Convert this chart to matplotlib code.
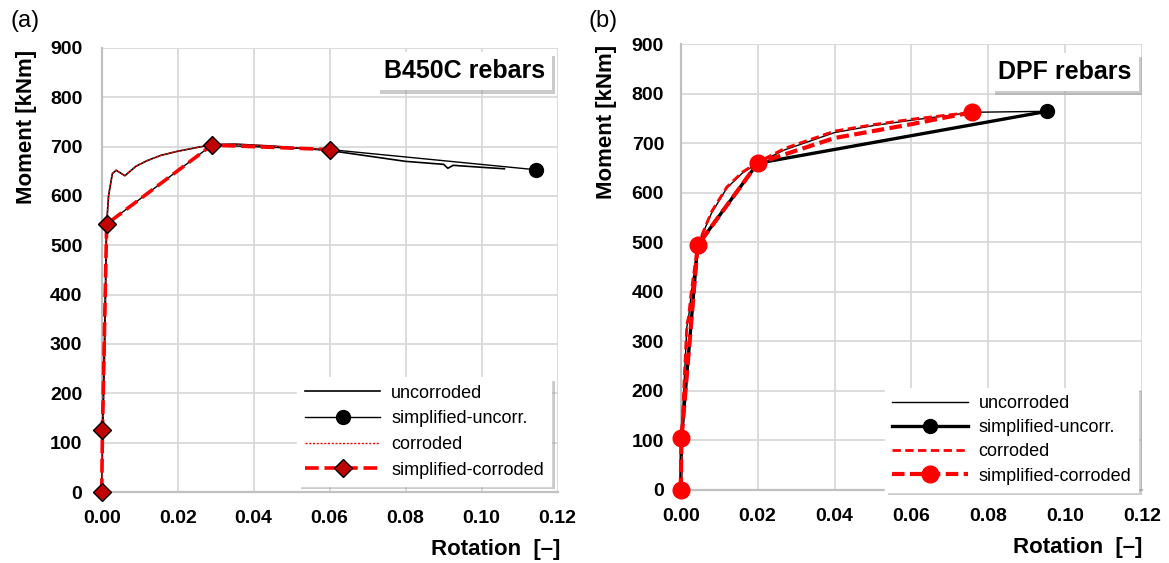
import matplotlib
matplotlib.use("Agg")
import matplotlib.pyplot as plt
import matplotlib.patheffects as pe

plt.rcParams['font.family'] = ['Liberation Sans', 'DejaVu Sans']

# ---------------- Panel (a): B450C rebars ----------------
a_unc_x = [0.0, 0.0003, 0.0008, 0.0013, 0.0018, 0.0028, 0.0038, 0.0061, 0.009, 0.0118,
           0.0155, 0.0197, 0.025, 0.029, 0.035, 0.045, 0.06, 0.07, 0.08, 0.09,
           0.0911, 0.0925, 0.1, 0.106]
a_unc_y = [0, 125, 300, 543, 600, 645, 652, 641, 660, 671,
           682, 690, 698, 704, 705, 701, 692, 681, 670, 664,
           656, 662, 658, 655]
a_cor_x = [0.0, 0.0003, 0.0008, 0.0013, 0.0018, 0.0028, 0.0038, 0.0061, 0.009, 0.0118,
           0.0155, 0.0197, 0.025, 0.029, 0.035, 0.045, 0.06]
a_cor_y = [0, 125, 300, 543, 600, 645, 652, 641, 660, 671,
           682, 690, 698, 704, 705, 701, 693]
a_simp_unc_x = [0.0, 0.0002, 0.0013, 0.029, 0.06, 0.1143]
a_simp_unc_y = [0, 125, 543, 703, 694, 653]
a_simp_cor_x = [0.0, 0.0002, 0.0013, 0.029, 0.06]
a_simp_cor_y = [0, 125, 543, 703, 694]

# ---------------- Panel (b): DPF rebars ----------------
b_unc_x = [0.0, 0.0002, 0.001, 0.0016, 0.002, 0.0028, 0.0044, 0.008, 0.012, 0.016,
           0.02, 0.027, 0.04, 0.05, 0.06, 0.07, 0.0757, 0.0953]
b_unc_y = [0, 104, 235, 330, 345, 400, 494, 559, 610, 640,
           660, 687, 722, 736, 747, 757, 763, 765]
b_cor_x = [0.0, 0.0002, 0.001, 0.0016, 0.002, 0.0028, 0.0044, 0.008, 0.012, 0.016,
           0.02, 0.027, 0.04, 0.05, 0.06, 0.07, 0.0757]
b_cor_y = [0, 104, 240, 335, 348, 405, 494, 562, 612, 642,
           662, 690, 725, 738, 749, 758, 763]
b_simp_unc_x = [0.0, 0.0002, 0.0044, 0.02, 0.0953]
b_simp_unc_y = [0, 104, 494, 660, 765]
b_simp_cor_x = [0.0, 0.0002, 0.0044, 0.02, 0.04, 0.06, 0.0757]
b_simp_cor_y = [0, 104, 494, 660, 711, 739, 763]
b_simp_cor_marks = [0, 1, 2, 3, 6]

x_ticks = [0.00, 0.02, 0.04, 0.06, 0.08, 0.10, 0.12]
y_ticks = [0, 100, 200, 300, 400, 500, 600, 700, 800, 900]
legend_labels = ['uncorroded', 'simplified-uncorr.', 'corroded', 'simplified-corroded']

fig = plt.figure(figsize=(11.69, 5.63), dpi=100)
axA = fig.add_axes([0.087, 0.126, 0.390, 0.789])
axB = fig.add_axes([0.5823, 0.1297, 0.3947, 0.7913])

shadow = [pe.SimplePatchShadow(offset=(2.5, -2.5), shadow_rgbFace='0.55', alpha=0.45), pe.Normal()]


def style_axes(ax, ypad):
    ax.set_xlim(0, 0.12)
    ax.set_ylim(0, 900)
    ax.set_xticks(x_ticks)
    ax.set_yticks(y_ticks)
    ax.set_xticklabels([f"{v:.2f}" for v in x_ticks])
    ax.grid(True, color='#d9d9d9', lw=1.3)
    ax.set_axisbelow(True)
    for s in ['top', 'right']:
        ax.spines[s].set_visible(False)
    for s in ['left', 'bottom']:
        ax.spines[s].set_color('#c0c0c0')
        ax.spines[s].set_linewidth(1.6)
    ax.tick_params(axis='both', length=0, labelsize=14)
    ax.tick_params(axis='x', pad=13)
    ax.tick_params(axis='y', pad=ypad)
    for lab in ax.get_xticklabels() + ax.get_yticklabels():
        lab.set_fontweight('bold')
    ax.set_ylabel('Moment [kNm]', fontsize=16, fontweight='bold', loc='top')
    ax.set_xlabel('Rotation  [–]', fontsize=16, fontweight='bold', loc='right')


# Panel (a)
style_axes(axA, 14)
axA.yaxis.set_label_coords(-0.143, 0.995)
axA.xaxis.set_label_coords(1.005, -0.105)
lA1, = axA.plot(a_unc_x, a_unc_y, color='black', lw=1.2)
lA2, = axA.plot(a_simp_unc_x, a_simp_unc_y, color='black', lw=1.0, marker='o', ms=10,
                markevery=[len(a_simp_unc_x) - 1], clip_on=False, zorder=3)
lA3, = axA.plot(a_cor_x, a_cor_y, color='red', lw=1.0, ls=(0, (1.5, 1.2)), zorder=4)
lA4, = axA.plot(a_simp_cor_x, a_simp_cor_y, color='red', lw=2.6, dashes=(3.8, 1.6),
                marker='D', ms=9, mfc='#c00000', mec='black', mew=1.0, clip_on=False, zorder=5)
legA = axA.legend([lA1, lA2, lA3, lA4], legend_labels, loc='lower right',
                  bbox_to_anchor=(0.986, 0.014), fontsize=13, handlelength=4.2,
                  frameon=True, fancybox=False, framealpha=1, edgecolor='white',
                  borderpad=0.4, labelspacing=0.48, handletextpad=0.6, borderaxespad=0)
legA.get_frame().set_path_effects(shadow)
tA = axA.text(0.972, 0.947, 'B450C rebars', transform=axA.transAxes, ha='right', va='center',
              fontsize=18, fontweight='bold', zorder=6,
              bbox=dict(boxstyle='square,pad=0.28', fc='white', ec='none'))
tA.get_bbox_patch().set_path_effects(shadow)

# Panel (b)
style_axes(axB, 12)
axB.yaxis.set_label_coords(-0.138, 1.0)
axB.xaxis.set_label_coords(1.0, -0.105)
lB1, = axB.plot(b_unc_x, b_unc_y, color='black', lw=1.0, zorder=2)
lB2, = axB.plot(b_simp_unc_x, b_simp_unc_y, color='black', lw=2.4, marker='o', ms=10,
                markevery=[len(b_simp_unc_x) - 1], clip_on=False, zorder=3)
lB3, = axB.plot(b_cor_x, b_cor_y, color='red', lw=2.0, dashes=(3, 1.6), zorder=4)
lB4, = axB.plot(b_simp_cor_x, b_simp_cor_y, color='red', lw=3.0, dashes=(3, 1.3),
                marker='o', ms=12, mfc='red', mec='red', markevery=b_simp_cor_marks,
                clip_on=False, zorder=5)
legB = axB.legend([lB1, lB2, lB3, lB4], legend_labels, loc='lower right',
                  bbox_to_anchor=(0.992, -0.004), fontsize=13, handlelength=4.2,
                  frameon=True, fancybox=False, framealpha=1, edgecolor='white',
                  borderpad=0.4, labelspacing=0.4, handletextpad=0.6, borderaxespad=0)
legB.get_frame().set_path_effects(shadow)
tB = axB.text(0.977, 0.938, 'DPF rebars', transform=axB.transAxes, ha='right', va='center',
              fontsize=18, fontweight='bold', zorder=6,
              bbox=dict(boxstyle='square,pad=0.28', fc='white', ec='none'))
tB.get_bbox_patch().set_path_effects(shadow)

fig.text(0.009, 0.962, '(a)', fontsize=17, va='center', ha='left')
fig.text(0.503, 0.962, '(b)', fontsize=17, va='center', ha='left')

fig.savefig('out.png', dpi=100)
